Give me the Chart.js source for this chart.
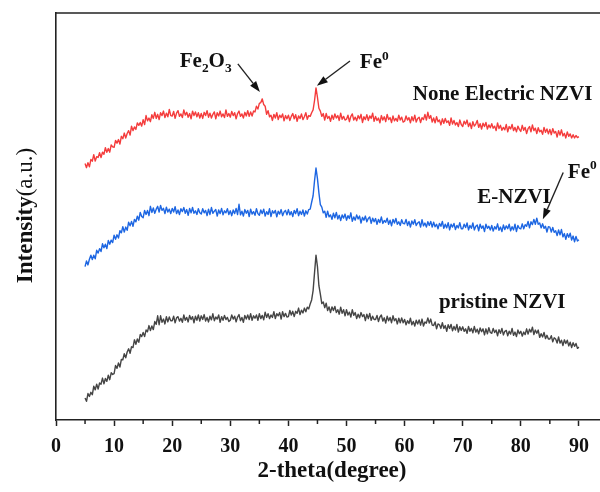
<!DOCTYPE html>
<html>
<head>
<meta charset="utf-8">
<script src="https://cdn.jsdelivr.net/npm/chart.js@4.4.1/dist/chart.umd.min.js"></script>
<style>
  html, body { margin: 0; padding: 0; background: #fff; overflow: hidden; }
  canvas { display: block; }
</style>
</head>
<body>
<canvas id="c" width="640" height="492"></canvas>
<script>
// ---- sampling grid (2-theta, degrees) ----
const START = 5, STEP = 0.25;

// ---- series values (intensity, a.u.; rows = 5 degrees) ----
const noneElectric = [
  63.0,62.0,63.2,62.2,64.0,63.6,65.2,63.6,64.7,64.5,65.7,64.5,65.8,65.3,66.9,65.8,66.7,65.8,67.6,67.1,
  67.0,68.7,68.0,68.9,67.8,69.7,69.1,70.5,69.3,70.4,71.1,70.0,72.2,71.1,72.0,71.4,73.0,72.4,73.1,72.2,
  73.8,72.6,74.8,73.5,74.2,73.3,75.0,74.1,75.6,74.1,75.1,73.8,75.5,74.8,75.9,74.3,75.4,74.5,76.3,74.8,
  74.7,75.8,74.1,75.4,76.0,74.6,75.2,74.3,76.2,74.9,75.6,74.4,75.3,74.0,75.9,74.8,75.7,74.5,75.5,74.2,
  75.3,74.1,75.6,74.8,76.0,74.4,75.4,74.2,75.1,75.7,74.0,75.5,74.7,75.9,74.5,75.2,74.3,76.2,74.6,75.3,
  74.4,75.8,74.8,75.5,74.0,75.3,75.9,74.6,75.2,74.2,75.6,74.7,76.0,74.6,75.7,74.7,75.9,75.7,77.1,76.4,
  77.8,78.0,78.9,77.5,77.1,75.1,76.0,74.5,74.9,73.6,75.1,74.2,75.5,73.8,74.9,74.3,75.2,73.5,74.8,74.0,
  74.9,73.6,74.6,75.3,74.0,75.0,73.4,74.7,74.1,75.2,73.8,74.5,75.5,73.9,74.8,74.6,75.5,76.2,78.5,81.6,
  79.3,76.6,75.9,74.6,75.3,73.7,75.3,74.1,74.6,73.4,74.9,73.9,75.2,74.2,74.8,73.6,75.4,73.9,74.6,73.7,
  73.9,74.9,73.3,74.6,75.2,73.7,74.4,73.5,74.8,74.0,75.1,73.1,74.5,73.8,75.0,73.6,74.7,74.1,75.4,73.4,
  74.6,73.6,74.2,73.0,74.8,73.7,74.5,73.3,75.1,73.8,74.3,73.1,74.7,73.5,74.1,73.4,74.9,73.7,74.4,73.2,
  73.4,74.7,73.7,74.3,73.0,74.5,73.5,74.9,73.2,74.1,74.4,73.1,74.3,73.8,75.1,73.7,75.6,74.1,74.8,73.2,
  74.2,73.0,74.5,73.3,73.7,72.5,74.0,72.9,74.1,73.1,73.5,72.4,74.2,72.7,73.6,72.5,73.1,72.1,73.7,72.6,
  72.1,73.4,72.7,73.7,72.1,73.0,71.6,73.3,72.2,72.7,73.6,71.9,72.8,71.5,72.9,72.1,73.1,71.5,72.5,71.8,
  72.8,71.7,72.2,71.1,73.0,71.6,72.4,71.2,71.9,71.3,72.6,70.8,72.1,71.5,72.6,71.1,71.9,70.8,72.2,71.4,
  70.9,72.4,71.2,71.9,70.4,71.6,72.1,70.8,72.5,71.1,71.7,70.4,71.8,70.8,71.2,70.2,71.9,70.7,71.5,70.3,
  71.4,70.1,71.6,70.5,70.9,69.5,71.1,70.0,71.3,69.8,70.4,69.3,70.8,69.7,70.3,69.3,70.1,69.3,69.9,69.4,
  69.6
];

const eNZVI = [
  37.7,39.1,38.1,39.5,40.5,39.4,40.5,39.6,41.7,41.0,42.1,41.4,43.3,42.3,43.2,42.1,44.1,43.2,44.2,43.6,
  45.4,44.4,45.5,44.7,46.5,46.0,47.5,46.2,47.4,46.6,48.6,47.7,48.8,47.6,49.3,48.7,50.1,49.1,51.0,50.0,
  49.7,51.5,50.5,51.5,50.2,52.5,51.0,52.1,50.8,51.8,52.5,51.1,52.7,51.5,52.0,50.7,52.3,51.1,51.8,50.7,
  52.0,51.1,52.4,50.7,51.6,50.5,51.9,51.2,52.2,50.8,51.7,50.3,52.0,50.9,52.2,50.8,51.4,50.5,51.9,50.9,
  50.6,51.9,50.9,51.5,50.2,51.8,50.5,52.2,50.8,51.3,51.7,50.1,51.6,50.7,52.0,50.4,51.4,50.9,51.9,50.5,
  51.4,50.2,51.6,50.7,52.0,50.5,53.0,50.4,51.3,50.1,51.7,50.8,51.5,50.0,51.8,50.6,51.2,50.3,51.9,50.7,
  50.3,51.6,50.7,51.8,50.1,51.2,50.5,51.9,50.0,51.4,50.8,51.5,49.9,51.3,50.6,51.7,50.2,51.1,51.5,50.4,
  51.7,50.4,51.2,50.0,51.5,50.7,51.9,50.2,51.3,50.5,51.6,50.1,51.4,50.6,51.7,51.8,53.5,55.1,58.8,61.9,
  59.3,55.8,52.9,52.3,50.9,51.3,49.8,51.3,49.9,50.4,49.3,50.8,49.7,51.0,49.4,50.3,49.0,50.4,49.6,50.6,
  49.1,50.2,49.5,50.9,48.8,49.9,49.1,50.4,49.4,50.1,48.4,49.8,49.1,50.1,48.7,49.5,49.9,48.3,49.6,48.7,
  49.5,48.1,49.3,48.5,49.9,48.3,49.0,48.6,49.6,48.1,49.1,47.7,49.3,48.4,49.5,48.1,48.7,47.8,49.2,48.3,
  48.2,49.3,47.8,48.8,47.4,48.9,48.1,49.2,47.8,48.4,48.7,47.4,49.2,47.7,48.4,47.4,48.7,47.8,48.8,47.4,
  48.6,47.5,48.1,47.0,48.3,47.6,48.8,47.1,48.1,47.2,48.5,46.7,48.1,47.4,48.3,46.8,47.8,47.2,48.5,47.0,
  47.0,48.1,47.3,48.4,46.7,47.8,47.1,48.4,46.7,47.6,47.9,46.5,48.1,47.1,47.7,46.3,48.1,47.1,47.6,46.7,
  47.8,46.4,47.5,46.9,48.2,46.6,47.4,46.3,47.9,46.8,47.7,47.0,48.1,46.5,47.5,46.7,48.1,46.3,47.8,47.1,
  47.0,48.2,47.0,48.0,47.6,48.8,47.2,48.7,48.0,49.3,48.1,49.6,48.1,48.4,47.2,48.2,47.1,47.6,46.2,47.5,
  47.4,46.2,47.3,46.1,46.5,45.3,46.7,45.5,46.8,45.0,45.8,44.4,45.8,44.9,45.9,44.2,45.2,43.8,45.1,44.0,
  44.3
];

const pristine = [
  5.4,4.6,6.5,5.8,6.8,6.2,8.3,7.4,8.8,7.6,9.1,8.8,10.3,8.9,10.2,9.5,11.0,9.9,11.6,11.2,
  11.4,13.4,12.7,14.0,13.0,14.9,14.8,16.3,15.3,16.7,17.5,16.4,18.0,17.8,19.7,18.6,19.9,19.1,21.0,20.5,
  21.5,20.5,22.1,21.7,23.2,22.0,23.1,22.2,24.2,23.5,25.6,23.4,25.6,24.0,24.8,23.6,25.4,24.1,25.3,24.4,
  24.4,25.5,23.9,25.1,25.4,24.3,25.0,24.0,25.8,24.5,25.2,24.1,25.7,24.7,25.4,23.9,25.5,24.5,25.8,24.3,
  25.6,24.7,25.9,24.3,25.2,24.1,25.5,24.6,26.1,24.4,25.3,24.8,25.8,24.0,25.4,24.5,25.7,24.7,25.2,24.2,
  24.5,25.8,24.8,25.5,24.1,25.3,25.9,24.4,25.2,24.0,25.7,24.8,25.8,24.7,26.1,24.5,25.6,25.0,25.8,24.5,
  26.1,24.9,25.7,24.6,26.5,25.2,26.1,24.9,25.8,25.2,26.6,24.9,26.1,25.6,26.4,24.8,26.6,25.4,26.2,25.3,
  25.4,26.9,25.8,26.7,25.4,26.7,26.2,27.5,25.9,27.0,26.3,27.5,26.6,27.7,27.3,28.5,29.5,31.8,36.2,40.5,
  37.7,33.0,30.9,28.6,29.0,27.6,28.7,26.9,27.8,26.4,27.8,26.9,27.9,26.4,27.1,26.0,27.7,26.2,27.1,25.6,
  27.1,25.8,26.5,25.3,27.1,25.7,26.4,24.9,26.0,25.1,26.4,25.4,25.9,24.4,26.0,24.9,26.2,24.5,25.5,24.7,
  24.7,25.7,24.2,25.3,25.8,24.3,25.1,23.8,25.5,24.4,25.2,23.9,25.6,24.4,24.9,23.6,25.0,23.9,25.1,23.9,
  24.7,23.4,24.4,23.7,25.0,23.4,24.2,23.1,24.5,23.6,24.6,23.3,24.8,23.1,24.1,23.8,25.1,23.8,24.8,23.3,
  23.2,24.1,22.4,23.6,23.4,22.5,23.9,22.5,23.2,21.8,23.4,22.5,23.5,21.9,23.0,22.1,23.5,21.6,22.9,22.0,
  22.9,21.8,22.4,21.3,23.0,21.8,22.5,21.4,23.0,21.6,22.3,21.2,22.6,21.7,22.4,20.9,22.4,21.2,22.7,21.5,
  21.3,22.5,21.5,22.1,20.7,22.2,21.3,22.5,20.9,21.8,22.0,20.7,21.8,21.1,22.5,20.8,21.6,20.5,22.1,21.2,
  21.8,20.6,21.6,21.0,22.4,21.1,22.3,21.6,22.8,21.0,22.1,21.3,22.1,20.3,21.2,20.4,21.5,20.0,20.8,19.9,
  19.9,20.7,19.2,20.2,19.9,18.9,20.4,18.9,19.6,18.3,19.7,18.8,19.6,18.2,19.1,17.8,19.0,18.1,18.8,17.6,
  17.9
];

// ---- axis tick labels ----
const X_MIN = 0, X_MAX = 100;
const xTickLabels = ['0','10','20','30','40','50','60','70','80','90'];
const minorTicks = [5,15,25,35,45,55,65,75,85,95];

// ---- series names / colours ----
const seriesNames = ['None Electric NZVI', 'E-NZVI', 'pristine NZVI'];
const seriesColors = ['#f43c3c', '#1d66e2', '#454545'];

// ---- annotation texts (positions in data units) ----
const annoTexts = [
  { parts: [['Fe'], ['2', 'sub'], ['O'], ['3', 'sub']], x: 21.3, y: 86.7 },
  { parts: [['Fe'], ['0', 'sup']], x: 52.3, y: 86.4 },
  { parts: [['None Electric NZVI']], x: 61.4, y: 78.6 },
  { parts: [['E-NZVI']], x: 72.5, y: 53.2 },
  { parts: [['Fe'], ['0', 'sup']], x: 88.1, y: 59.4 },
  { parts: [['pristine NZVI']], x: 65.9, y: 27.4 }
];
const annoArrows = [
  { from: [31.3, 87.5], to: [35.1, 80.6] },
  { from: [50.6, 88.2], to: [44.9, 82.1] },
  { from: [87.3, 60.8], to: [83.8, 49.3] }
];

const FONT = '"Liberation Serif", "Times New Roman", serif';

function toPoints(vals) {
  return vals.map((v, i) => ({ x: START + i * STEP, y: v }));
}

function drawRich(ctx, parts, px, py, size) {
  let cx = px;
  ctx.textBaseline = 'alphabetic';
  ctx.textAlign = 'left';
  for (const [t, kind] of parts) {
    const s = kind ? size * 0.64 : size;
    ctx.font = 'bold ' + s + 'px ' + FONT;
    const dy = kind === 'sub' ? size * 0.22 : kind === 'sup' ? -size * 0.42 : 0;
    ctx.fillText(t, cx, py + dy);
    cx += ctx.measureText(t).width;
  }
}

function drawArrow(ctx, x1, y1, x2, y2) {
  const ang = Math.atan2(y2 - y1, x2 - x1);
  const L = 11, W = 3.8;
  const bx = x2 - L * Math.cos(ang), by = y2 - L * Math.sin(ang);
  ctx.beginPath();
  ctx.moveTo(x1, y1);
  ctx.lineTo(bx, by);
  ctx.stroke();
  ctx.beginPath();
  ctx.moveTo(x2, y2);
  ctx.lineTo(bx + W * Math.sin(ang), by - W * Math.cos(ang));
  ctx.lineTo(bx - W * Math.sin(ang), by + W * Math.cos(ang));
  ctx.closePath();
  ctx.fill();
}

const decor = {
  id: 'decor',
  afterDraw(chart) {
    const { ctx, chartArea: a, scales: { x, y } } = chart;
    ctx.save();
    ctx.strokeStyle = '#222';
    ctx.fillStyle = '#111';
    // top frame line
    ctx.lineWidth = 1.6;
    ctx.beginPath();
    ctx.moveTo(a.left, a.top);
    ctx.lineTo(chart.width, a.top);
    ctx.stroke();
    // minor ticks
    ctx.lineWidth = 1.5;
    for (const v of minorTicks) {
      const px = x.getPixelForValue(v);
      ctx.beginPath();
      ctx.moveTo(px, a.bottom);
      ctx.lineTo(px, a.bottom + 4);
      ctx.stroke();
    }
    // annotation texts
    for (const t of annoTexts) {
      drawRich(ctx, t.parts, x.getPixelForValue(t.x), y.getPixelForValue(t.y), 21);
    }
    // arrows
    ctx.lineWidth = 1.4;
    for (const ar of annoArrows) {
      drawArrow(ctx,
        x.getPixelForValue(ar.from[0]), y.getPixelForValue(ar.from[1]),
        x.getPixelForValue(ar.to[0]), y.getPixelForValue(ar.to[1]));
    }
    // x title
    ctx.font = 'bold 23px ' + FONT;
    ctx.textAlign = 'center';
    ctx.textBaseline = 'alphabetic';
    ctx.fillText('2-theta(degree)', x.getPixelForValue(47.5), 477);
    // y title
    ctx.translate(32, (a.top + a.bottom) / 2 - 1);
    ctx.rotate(-Math.PI / 2);
    ctx.font = 'bold 23px ' + FONT;
    const w1 = ctx.measureText('Intensity').width;
    ctx.font = '23px ' + FONT;
    const w2 = ctx.measureText('(a.u.)').width;
    const startX = -(w1 + w2) / 2;
    ctx.textAlign = 'left';
    ctx.font = 'bold 23px ' + FONT;
    ctx.fillText('Intensity', startX, 0);
    ctx.font = '23px ' + FONT;
    ctx.fillText('(a.u.)', startX + w1, 0);
    ctx.restore();
  }
};

new Chart(document.getElementById('c'), {
  type: 'line',
  data: {
    datasets: [
      { label: seriesNames[0], data: toPoints(noneElectric), borderColor: seriesColors[0] },
      { label: seriesNames[1], data: toPoints(eNZVI), borderColor: seriesColors[1] },
      { label: seriesNames[2], data: toPoints(pristine), borderColor: seriesColors[2] }
    ]
  },
  options: {
    responsive: false,
    animation: false,
    parsing: false,
    normalized: true,
    elements: {
      line: { borderWidth: 1.4, tension: 0, borderJoinStyle: 'round' },
      point: { radius: 0, hoverRadius: 0 }
    },
    layout: { padding: { left: 56, top: 13, right: 3, bottom: 0 } },
    plugins: { legend: { display: false }, tooltip: { enabled: false } },
    scales: {
      x: {
        type: 'linear',
        min: X_MIN,
        max: X_MAX,
        afterFit(s) { s.height = 72; },
        afterBuildTicks(s) {
          s.ticks = xTickLabels.map(l => ({ value: Number(l) }));
        },
        ticks: {
          autoSkip: false,
          maxRotation: 0,
          padding: 9,
          color: '#111',
          font: { family: FONT, size: 20, weight: 'bold' },
          callback: (v) => xTickLabels.includes(String(v)) ? String(v) : ''
        },
        grid: {
          drawOnChartArea: false,
          drawTicks: true,
          tickLength: 6,
          tickWidth: 1.5,
          tickColor: '#222'
        },
        border: { display: true, color: '#222', width: 1.6 }
      },
      y: {
        min: 0,
        max: 100,
        afterFit(s) { s.width = 0; },
        ticks: { display: false },
        grid: { display: false },
        border: { display: true, color: '#222', width: 1.6 }
      }
    }
  },
  plugins: [decor]
});
</script>
</body>
</html>
